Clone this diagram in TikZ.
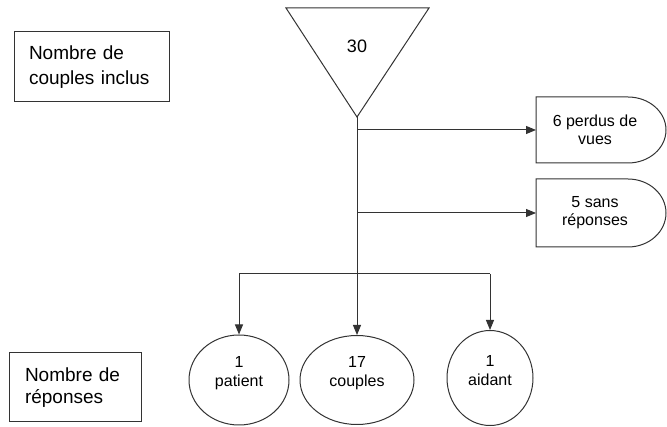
\documentclass[tikz,border=0pt]{standalone}
\usepackage{fontspec}
\setmainfont{Liberation Sans}
\usetikzlibrary{shapes.geometric,arrows.meta}
\begin{document}
\begin{tikzpicture}[x=1pt,y=-1pt,line width=1pt,
  ln/.style={draw=black!80},
  arr/.style={ln,-{Triangle[length=10pt,width=8pt]}},
  lbl/.style={draw=black!80,rectangle,align=left,inner xsep=15pt,inner ysep=0pt},
  circ/.style={draw=black!80,ellipse,inner sep=0pt},
  circtxt/.style={align=center,inner sep=0pt,yshift=7pt,font=\fontsize{16}{19}\selectfont},
  txt/.style={align=center,font=\fontsize{16}{18}\selectfont}]
\useasboundingbox (0,0) rectangle (667,427);

% left labels
\node[lbl,text width=125pt,minimum width=155pt,minimum height=70pt,
      font=\fontsize{19}{25}\selectfont] (inclus) at (91.5,67) {Nombre de\\couples inclus};
\node[lbl,text width=100pt,minimum width=132pt,minimum height=69pt,inner xsep=16pt,
      font=\fontsize{19}{22}\selectfont] (rep) at (75,387.5) {Nombre de\\réponses};

% triangle
\draw[ln,line join=miter] (286,8) coordinate (tl) -- (429,8) coordinate (tr)
      -- (357,117) coordinate (apex) -- cycle;
\node[font=\fontsize{18}{20}\selectfont] (n30) at (357,46) {30};

% delay shapes
\draw[ln] (536,97) coordinate (d1a) -- (628,97)
      arc[start angle=90,end angle=-90,x radius=38pt,y radius=33pt] -- (536,163) -- cycle;
\draw[ln] (536,179) coordinate (d2a) -- (628,179)
      arc[start angle=90,end angle=-90,x radius=38pt,y radius=34pt] -- (536,247) -- cycle;
\node[txt] (lost) at (595,130) {6 perdus de\\vues};
\node[txt] (nores) at (595,213) {5 sans\\réponses};
\coordinate (d1w) at (536,130);
\coordinate (d2w) at (536,213);

% ellipses
\node[circ,minimum width=100pt,minimum height=90pt,
      label={[circtxt]center:{1\\patient}}] (c1) at (239,380) {};
\node[circ,minimum width=114pt,minimum height=89pt,
      label={[circtxt]center:{17\\couples}}] (c2) at (357,380) {};
\node[circ,minimum width=86pt,minimum height=95pt,
      label={[circtxt]center:{1\\aidant}}] (c3) at (490,378) {};

% connectors
\coordinate (b1) at (357,130);
\coordinate (b2) at (357,213);
\coordinate (brl) at (239,274);
\coordinate (brr) at (490,274);
\draw[arr] (apex) -- (c2.north);
\draw[arr] (b1) -- (d1w);
\draw[arr] (b2) -- (d2w);
\draw[ln] (brl) -- (brr);
\draw[arr] (brl) -- (c1.north);
\draw[arr] (brr) -- (c3.north);
\end{tikzpicture}
\end{document}
